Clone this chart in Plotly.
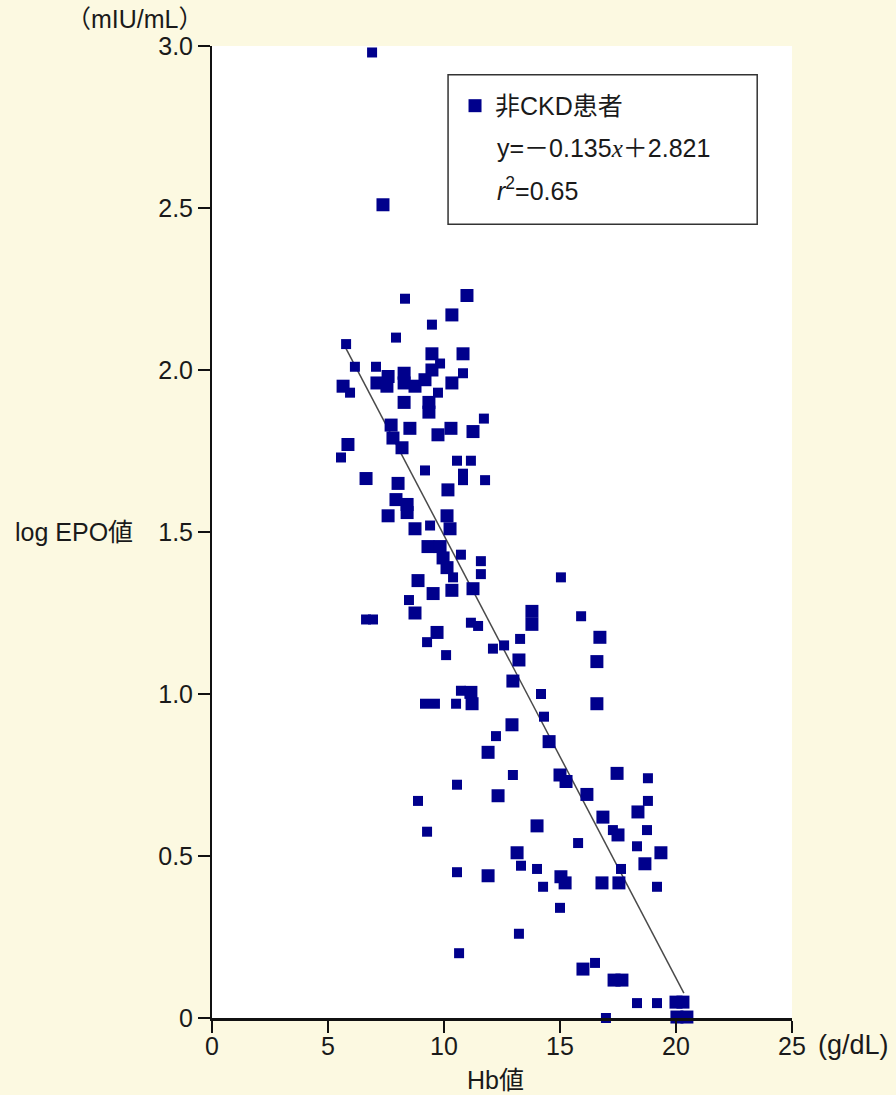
import plotly.graph_objects as go

# ---- data ----
hb_small = [6.90, 8.32, 9.48, 7.93, 5.78, 9.83, 6.16, 7.07, 10.82, 5.95, 9.74, 11.72,
            5.56, 10.56, 11.16, 9.18, 10.82, 10.82, 11.77, 9.40, 10.73, 10.39, 11.59, 11.59,
            8.49, 6.64, 6.94, 11.16, 11.47, 9.27, 10.09, 12.11, 12.59, 13.28, 15.04, 15.91,
            14.18, 10.73, 9.18, 9.61, 10.52, 14.31, 12.24, 10.56, 8.88, 12.97, 18.79, 18.79,
            18.75, 17.28, 18.32, 15.78, 9.27, 13.32, 14.01, 14.27, 17.63, 19.18, 10.56, 15.00,
            13.23, 10.65, 16.51, 18.32, 19.18, 16.98]
epo_small = [2.98, 2.22, 2.14, 2.10, 2.08, 2.02, 2.01, 2.01, 1.99, 1.93, 1.93, 1.85,
             1.73, 1.72, 1.72, 1.69, 1.68, 1.66, 1.66, 1.52, 1.43, 1.36, 1.41, 1.37,
             1.29, 1.23, 1.23, 1.22, 1.21, 1.16, 1.12, 1.14, 1.15, 1.17, 1.36, 1.24,
             1.00, 1.01, 0.97, 0.97, 0.97, 0.93, 0.87, 0.72, 0.67, 0.75, 0.74, 0.67,
             0.58, 0.58, 0.53, 0.54, 0.575, 0.47, 0.46, 0.405, 0.46, 0.405, 0.45, 0.34,
             0.26, 0.20, 0.17, 0.046, 0.046, 0.0]

hb_large = [7.37, 10.99, 10.34, 9.48, 10.82, 7.59, 8.28, 9.48, 7.11, 7.54, 8.28, 8.75,
            9.18, 10.34, 5.65, 8.28, 9.35, 9.35, 7.72, 8.53, 9.74, 10.30, 11.25, 7.80,
            8.19, 5.86, 6.64, 8.02, 10.17, 7.93, 8.41, 8.41, 7.59, 10.13, 8.75, 10.26,
            9.31, 9.83, 9.96, 10.13, 8.88, 9.53, 10.34, 11.25, 8.75, 9.70, 13.23, 13.79,
            13.79, 16.72, 16.59, 12.97, 11.16, 11.21, 12.93, 11.90, 14.53, 16.59, 12.33, 15.00,
            15.26, 16.16, 17.46, 18.36, 16.85, 17.50, 19.35, 18.66, 14.01, 13.15, 15.04, 15.22,
            16.81, 17.54, 11.90, 15.99, 17.33, 17.67, 20.00, 20.30, 20.04, 20.47]
epo_large = [2.51, 2.23, 2.17, 2.05, 2.05, 1.98, 1.99, 2.00, 1.96, 1.95, 1.96, 1.95,
             1.97, 1.96, 1.95, 1.90, 1.90, 1.87, 1.83, 1.82, 1.80, 1.82, 1.81, 1.79,
             1.76, 1.77, 1.665, 1.65, 1.63, 1.60, 1.585, 1.56, 1.55, 1.55, 1.51, 1.51,
             1.455, 1.455, 1.42, 1.39, 1.35, 1.31, 1.32, 1.325, 1.25, 1.19, 1.105, 1.255,
             1.215, 1.175, 1.10, 1.04, 1.005, 0.97, 0.905, 0.82, 0.853, 0.97, 0.686, 0.75,
             0.73, 0.69, 0.755, 0.636, 0.62, 0.565, 0.51, 0.476, 0.593, 0.51, 0.436, 0.417,
             0.417, 0.417, 0.439, 0.151, 0.117, 0.117, 0.049, 0.049, 0.003, 0.003]

fit_x = [5.75, 20.34]
fit_y = [2.07, 0.077]

x_ticks = [0, 5, 10, 15, 20, 25]
x_ticktext = ["0", "5", "10", "15", "20", "25"]
y_ticks = [0, 0.5, 1.0, 1.5, 2.0, 2.5, 3.0]
y_ticktext = ["0", "0.5", "1.0", "1.5", "2.0", "2.5", "3.0"]

series_name = "非CKD患者"
eq_text = "y=－0.135<span style=\"font-family:'Liberation Serif';font-style:italic\">x</span>＋2.821"
r2_text = "<i>r</i><sup>2</sup>=0.65"

FONT = "Liberation Sans, Arial, Noto Sans CJK JP, sans-serif"
TXT = "#1a1a1a"
NAVY = "#00008c"
BG = "#fcf9e1"

fig = go.Figure()
fig.add_trace(go.Scatter(x=fit_x, y=fit_y, mode="lines",
                         line=dict(color="#4a4a4a", width=1.5),
                         showlegend=False, hoverinfo="skip"))
fig.add_trace(go.Scatter(x=hb_small, y=epo_small, mode="markers",
                         marker=dict(symbol="square", size=10, color=NAVY, line=dict(width=0)),
                         showlegend=False, cliponaxis=False))
fig.add_trace(go.Scatter(x=hb_large, y=epo_large, mode="markers",
                         marker=dict(symbol="square", size=13, color=NAVY, line=dict(width=0)),
                         name=series_name, showlegend=True, cliponaxis=False))

fig.update_layout(
    width=896, height=1095,
    margin=dict(l=212, r=104, t=46, b=77, pad=0),
    paper_bgcolor=BG, plot_bgcolor="white",
    font=dict(family=FONT, size=25, color=TXT),
    showlegend=True,
    legend=dict(x=0.419, y=0.962, xanchor="left", yanchor="top",
                bgcolor="rgba(0,0,0,0)", borderwidth=0,
                font=dict(family=FONT, size=25, color=TXT),
                itemsizing="trace"),
    xaxis=dict(range=[0, 25], tickvals=x_ticks, ticktext=x_ticktext,
               showline=True, linecolor="#111", linewidth=3,
               ticks="outside", ticklen=12, tickwidth=2, tickcolor="#111",
               ticklabelstandoff=-8,
               showgrid=False, zeroline=False, fixedrange=True,
               tickfont=dict(family=FONT, size=25, color=TXT)),
    yaxis=dict(range=[0, 3], tickvals=y_ticks, ticktext=y_ticktext,
               showline=True, linecolor="#111", linewidth=2,
               ticks="outside", ticklen=12, tickwidth=2, tickcolor="#111",
               showgrid=False, zeroline=False, fixedrange=True,
               tickfont=dict(family=FONT, size=25, color=TXT)),
)

# legend box
fig.add_shape(type="rect", xref="paper", yref="paper",
              x0=0.407, x1=0.940, y0=0.8165, y1=0.9705,
              line=dict(color="#333", width=1.5), fillcolor="rgba(0,0,0,0)")

ann = []
ann.append(dict(text=eq_text, xref="paper", yref="paper", x=0.488, y=0.895,
                xanchor="left", yanchor="middle", showarrow=False,
                font=dict(family=FONT, size=25, color=TXT)))
ann.append(dict(text=r2_text, xref="paper", yref="paper", x=0.488, y=0.853,
                xanchor="left", yanchor="middle", showarrow=False,
                font=dict(family=FONT, size=25, color=TXT)))
ann.append(dict(text="log EPO値", xref="paper", yref="y", x=-0.343, y=1.5,
                xanchor="left", yanchor="middle", showarrow=False,
                font=dict(family=FONT, size=25, color=TXT)))
ann.append(dict(text="（mIU/mL）", xref="paper", yref="paper", x=-0.256, y=1.0275,
                xanchor="left", yanchor="middle", showarrow=False,
                font=dict(family=FONT, size=25, color=TXT)))
ann.append(dict(text="(g/dL)", xref="x", yref="paper", x=25, xshift=24, y=-0.0278,
                xanchor="left", yanchor="middle", showarrow=False,
                font=dict(family=FONT, size=27, color=TXT)))
ann.append(dict(text="Hb値", xref="paper", yref="paper", x=0.488, y=-0.0638,
                xanchor="center", yanchor="middle", showarrow=False,
                font=dict(family=FONT, size=25, color=TXT)))
fig.update_layout(annotations=ann)

fig.write_html("out.html")
